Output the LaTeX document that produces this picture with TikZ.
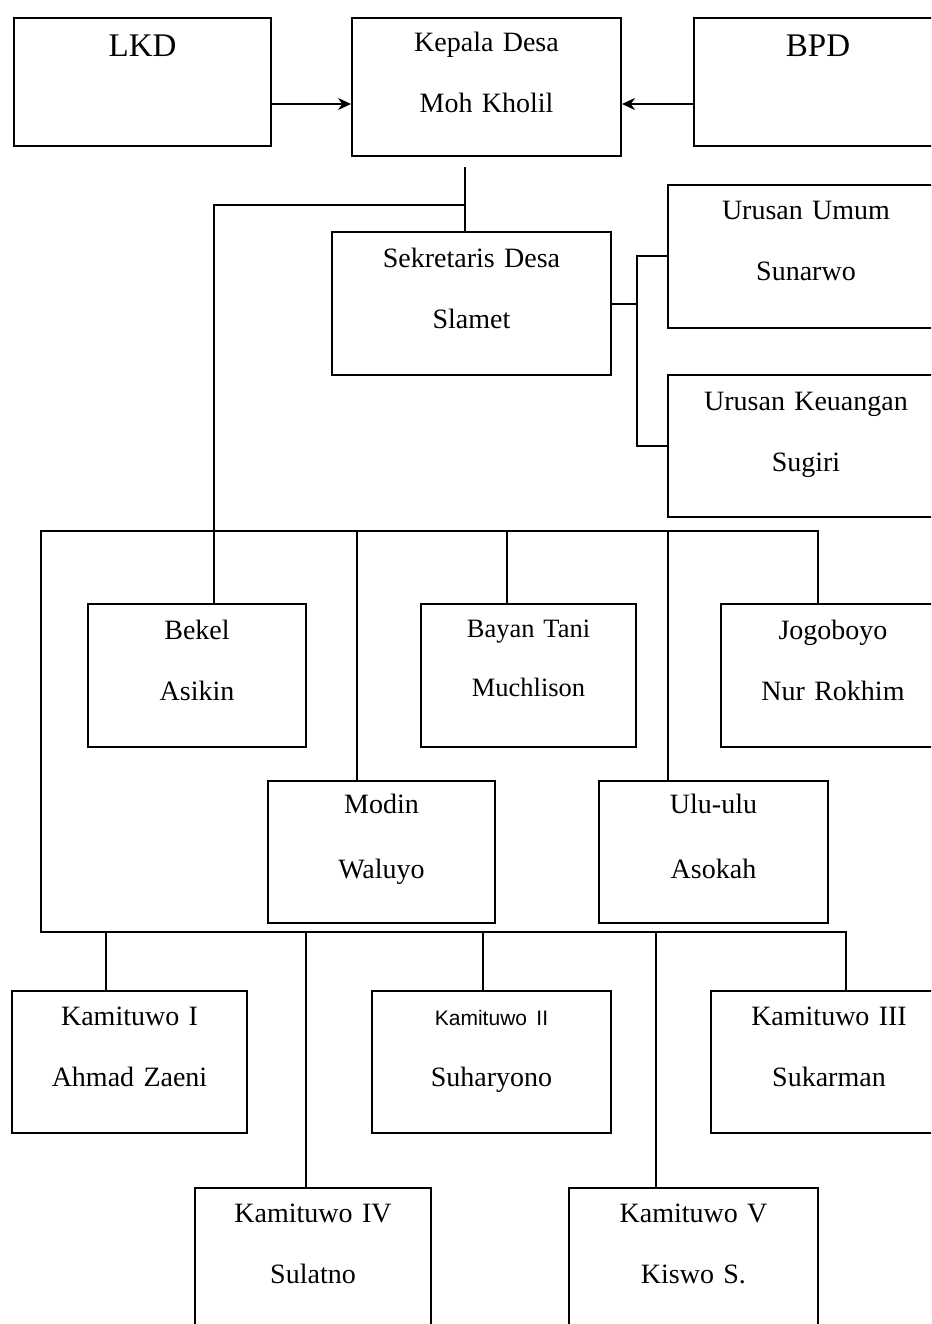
\documentclass[tikz,border=0pt]{standalone}
\usepackage{fontspec}
\setmainfont{Liberation Serif}
\newfontfamily\kamsans{Liberation Sans}
\usetikzlibrary{arrows.meta}

\begin{document}
\begin{tikzpicture}[
    x=1pt, y=-1pt,
    >={Stealth[length=13pt, width=12pt]},
    line width=2pt,
    unit/.style={draw, line width=2pt, inner sep=0pt, anchor=north west, align=center, text height=35pt, text depth=108pt, font=\fontsize{28}{61}\selectfont},
    head/.style={unit, text height=39pt, text depth=89pt, font=\fontsize{33}{40}\selectfont},
    staff/.style={unit, text height=32pt, text depth=110pt, font=\fontsize{28}{65}\selectfont}
]
\useasboundingbox (0,0) rectangle (931,1324);
\clip (0,0) rectangle (931,1324);

% Top row
\node[head, text width=257pt] (lkd) at (13,17) {LKD};
\node[unit, text width=269pt, text height=34pt, text depth=104pt] (kades) at (351,17) {Kepala Desa\\Moh Kholil};
\node[head, text width=248pt] (bpd) at (693,17) {BPD};

\draw[->] ([yshift=-22pt]lkd.east) -- ([yshift=-22pt]lkd.east -| kades.west);
\draw[->] ([yshift=-22pt]bpd.west) -- ([yshift=-22pt]bpd.west -| kades.east);

% Sekretaris
\node[unit, text width=279pt] (sekdes) at (331,231) {Sekretaris Desa\\Slamet};
\node[unit, text width=276pt] (umum) at (667,184) {Urusan Umum\\Sunarwo};
\node[unit, text width=276pt, text depth=107pt] (keuangan) at (667,374) {Urusan Keuangan\\Sugiri};

\coordinate (k1) at (465,167);
\coordinate (k2) at (465,205);
\draw (k1) -- (k1 |- sekdes.north);
\draw (sekdes.east) -- ++(25,0) coordinate (sj);
\draw (umum.west) -| (sj) |- (keuangan.west);

% Perangkat
\node[unit, text width=218pt] (bekel) at (87,603) {Bekel\\Asikin};
\node[unit, text width=215pt, text height=33pt, text depth=110pt, font=\fontsize{26.5}{59}\selectfont] (bayan) at (420,603) {Bayan Tani\\Muchlison};
\node[unit, text width=224pt] (jogo) at (720,603) {Jogoboyo\\Nur Rokhim};
\node[staff, text width=227pt] (modin) at (267,780) {Modin\\Waluyo};
\node[staff, text width=229pt] (ulu) at (598,780) {Ulu-ulu\\Asokah};

% Kamituwo
\node[unit, text width=235pt, text height=34pt] (kam1) at (11,990) {Kamituwo I\\Ahmad Zaeni};
\node[unit, text width=239pt, text height=34pt] (kam2) at (371,990) {{\kamsans\fontsize{21}{25}\selectfont Kamituwo II}\\Suharyono};
\node[unit, text width=236pt, text height=34pt] (kam3) at (710,990) {Kamituwo III\\Sukarman};
\node[unit, text width=236pt, text height=34pt, text depth=160pt] (kam4) at (194,1187) {Kamituwo IV\\Sulatno};
\node[unit, text width=249pt, text height=34pt, text depth=160pt] (kam5) at (568,1187) {Kamituwo V\\Kiswo S.};

% Lines
\coordinate (bus1) at (41,531);
\coordinate (bus2) at (41,932);
\draw (k2) -| ([xshift=17pt]bekel.north);
\draw ([xshift=-15pt]jogo.north) |- (bus1) -- (bus2) -| ([xshift=17pt]kam3.north);
\foreach \n/\dx in {modin/-24.5, bayan/-21.5, ulu/-45.5}
    \draw ([xshift=\dx pt]\n.north) -- ([xshift=\dx pt]\n.north |- bus1);
\foreach \n/\dx in {kam1/-23.5, kam2/-8.5, kam4/-7, kam5/-37.5}
    \draw ([xshift=\dx pt]\n.north) -- ([xshift=\dx pt]\n.north |- bus2);

\end{tikzpicture}
\end{document}
